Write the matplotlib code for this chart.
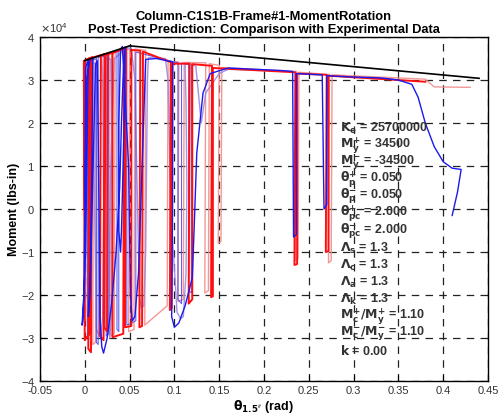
import numpy as np
import matplotlib.pyplot as plt
from matplotlib.ticker import ScalarFormatter

plt.rcParams['font.family'] = ['Liberation Sans', 'DejaVu Sans']
plt.rcParams['mathtext.fontset'] = 'dejavusans'

# Backbone curve (black).
bb_theta = [0.000, 0.050, 0.440]
bb_moment = [34500, 37950, 30400]

# Analysis, red (theta rad, moment lbs-in).
red_theta = [0.000, 0.000, 0.006, 0.005, 0.000, -0.001, 0.008, 0.007, 0.004, 0.005,
             0.022, 0.021, 0.017, 0.018, 0.026, 0.025, 0.022, 0.023, 0.044, 0.043,
             0.031, 0.031, 0.046, 0.045, 0.052, 0.052, 0.062, 0.061, 0.064, 0.065,
             0.098, 0.097, 0.095, 0.096, 0.117, 0.116, 0.120, 0.120, 0.142, 0.141,
             0.143, 0.143, 0.235, 0.234, 0.237, 0.237, 0.270, 0.269, 0.272, 0.272,
             0.380]
red_moment = [0, 34500, 35100, -29000, -30500, 34400, 35300, -33300, -32500, 35000,
              36000, -30500, -29500, 35700, 36200, -28500, -27500, 35800, 37300, -29000,
              -29800, 36300, 37500, -27500, -27200, 37000, 36800, -27500, -27200, 36600,
              34000, -23000, -23500, 33800, 33800, -22000, -21000, 33700, 33300, -20500,
              -20300, 32800, 31800, -13000, -12800, 31500, 31200, -10000, -9800, 31000,
              29600]

# Analysis, light red.
pink_theta = [0.001, 0.002, 0.010, 0.009, 0.012, 0.013, 0.030, 0.029, 0.033, 0.034,
              0.050, 0.049, 0.055, 0.056, 0.068, 0.067, 0.092, 0.093, 0.105, 0.104,
              0.110, 0.111, 0.135, 0.134, 0.138, 0.139, 0.150, 0.149, 0.152, 0.153,
              0.236, 0.235, 0.238, 0.239, 0.273, 0.272, 0.275, 0.276, 0.380, 0.390,
              0.430]
pink_moment = [-26000, 34800, 35400, -31500, -31000, 35500, 36600, -29500, -29000, 36800,
               37200, -28500, -28000, 37200, 36900, -27000, -22500, 34300, 34200, -21500,
               -21000, 34100, 34000, -19500, -19000, 33800, 33400, -8000, -7500, 32900,
               32000, -12000, -11500, 31800, 31300, -12500, -12000, 31200, 30200, 28400,
               28300]

# Experiment, blue.
blue_theta = [0.000, 0.001, 0.004, 0.003, 0.001, -0.002, -0.003, -0.001, 0.002, 0.006,
              0.009, 0.008, 0.006, 0.004, 0.006, 0.012, 0.014, 0.016, 0.017, 0.019,
              0.021, 0.025, 0.030, 0.035, 0.039, 0.041, 0.043, 0.045, 0.044, 0.041,
              0.040, 0.038, 0.038, 0.040, 0.042, 0.049, 0.051, 0.053, 0.056, 0.060,
              0.064, 0.068, 0.080, 0.098, 0.098, 0.097, 0.100, 0.105, 0.112, 0.120,
              0.122, 0.125, 0.132, 0.140, 0.160, 0.220, 0.232, 0.233, 0.236, 0.236,
              0.265, 0.267, 0.270, 0.270, 0.300, 0.330, 0.350, 0.365, 0.372, 0.380,
              0.390, 0.400, 0.410, 0.420, 0.416, 0.410]
blue_moment = [0, 33000, 34500, 20000, -10000, -26000, -27000, -20000, 30000, 34800,
               35200, 10000, -15000, -25000, -20000, 33500, 34500, 0, -25000, -32000,
               -33500, -30000, -22000, -10000, 5000, 20000, 32000, 37700, 20000, -5000,
               -10000, -5000, 20000, 37200, 37800, 10000, -20000, -26000, -25000, -15000,
               10000, 34800, 35000, 34200, 0, -25000, -27500, -26500, -22500, -16000,
               -5000, 13000, 27000, 31500, 32800, 32200, 32000, -6500, -6000, 31500,
               31200, 0, 1000, 31000, 30700, 30500, 30000, 29000, 26000, 20000,
               14500, 11000, 9500, 9200, 4000, -1500]

# Experiment, light blue / violet.
lav_theta = [0.000, 0.002, 0.008, 0.010, 0.012, 0.011, 0.013, 0.018, 0.020, 0.021,
             0.020, 0.019, 0.020, 0.026, 0.029, 0.031, 0.030, 0.028, 0.027, 0.029,
             0.033, 0.036, 0.047, 0.052, 0.056, 0.058, 0.060, 0.061, 0.063, 0.066,
             0.068, 0.069, 0.070, 0.071, 0.090, 0.093, 0.096, 0.103, 0.107, 0.110,
             0.113, 0.114, 0.113, 0.112, 0.118, 0.124, 0.130, 0.135, 0.150, 0.160,
             0.200]
lav_moment = [-25000, 34300, 34700, 33800, 34000, 0, -28000, -30000, -25000, 0,
              30000, 35800, 35600, 34800, 34900, 0, -22000, -30000, -26000, 10000,
              35000, 35500, 37500, 37400, 30000, 10000, -10000, -20000, -23000, -22500,
              -10000, 10000, 30000, 35200, 35000, 30000, 0, -24000, -25500, -25000,
              -15000, 5000, 25000, 33600, 33800, 33200, 20000, 27000, 31500, 32500,
              32300]

# Experiment, extra small cycles (blue, thin).
blue2_theta = [0.003, 0.003, 0.005, 0.005, 0.013, 0.013, 0.015, 0.015, 0.024, 0.024,
               0.027, 0.027, 0.036, 0.036, 0.038, 0.038, 0.047, 0.047, 0.057, 0.057,
               0.104, 0.104, 0.108, 0.108, 0.116, 0.116, 0.119, 0.119]
blue2_moment = [34000, -29000, -29500, 34200, 35000, -31000, -31500, 35200, 35800, -29500,
                -29000, 36000, 36800, -28000, -28500, 37000, 37400, -27000, -26000, 36500,
                34000, -21000, -22000, 34000, 33600, -19000, -19500, 33500]

fig = plt.figure(figsize=(4.99, 4.16), dpi=100)
ax = fig.add_axes([0.080, 0.084, 0.898, 0.827])

ax.plot(pink_theta, pink_moment, color='#f28c8c', lw=1.0, alpha=0.9)
ax.plot(lav_theta, lav_moment, color='#9a88e0', lw=1.0, alpha=0.9)
ax.plot(blue2_theta, blue2_moment, color='#5050f0', lw=0.8, alpha=0.9)
ax.plot(red_theta, red_moment, color='#ff1010', lw=1.4)
ax.plot(blue_theta, blue_moment, color='#1a1aee', lw=1.0)
ax.plot(bb_theta, bb_moment, color='black', lw=1.2)

ax.set_xlim(-0.05, 0.45)
ax.set_ylim(-40000, 40000)
ax.set_xticks(np.arange(-0.05, 0.451, 0.05))
ax.set_xticklabels(['-0.05', '0', '0.05', '0.1', '0.15', '0.2', '0.25', '0.3', '0.35', '0.4', '0.45'])
ax.set_yticks(np.arange(-40000, 40001, 10000))
fmt = ScalarFormatter(useMathText=True)
fmt.set_powerlimits((0, 0))
ax.yaxis.set_major_formatter(fmt)
ax.yaxis.get_offset_text().set_fontsize(8)
ax.yaxis.get_offset_text().set_color('#333333')
ax.tick_params(direction='in', labelsize=8, labelcolor='#333333', length=4)
ax.grid(True, color='#222222', linestyle=(0, (6, 5)), lw=0.9)
for sp in ax.spines.values():
    sp.set_linewidth(1.0)

ax.set_xlabel(r"$\mathbf{\theta_{1.5''}}$ (rad)", fontsize=9, fontweight='bold')
ax.xaxis.set_label_coords(0.5, -0.048)
ax.set_ylabel('Moment (lbs-in)', fontsize=9, fontweight='bold')
ax.yaxis.set_label_coords(-0.045, 0.5)
ax.set_title('Column-C1S1B-Frame#1-MomentRotation\nPost-Test Prediction: Comparison with Experimental Data',
             fontsize=9.3, fontweight='bold', linespacing=1.05, pad=3)

labels = [r'$\mathbf{K_e}$ = 25700000',
          r'$\mathbf{M^{+}_{y}}$ = 34500',
          r'$\mathbf{M^{-}_{y}}$ = -34500',
          r'$\mathbf{\theta^{+}_{p}}$ = 0.050',
          r'$\mathbf{\theta^{-}_{p}}$ = 0.050',
          r'$\mathbf{\theta^{+}_{pc}}$ = 2.000',
          r'$\mathbf{\theta^{-}_{pc}}$ = 2.000',
          r'$\mathbf{\Lambda_{s}}$ = 1.3',
          r'$\mathbf{\Lambda_{c}}$ = 1.3',
          r'$\mathbf{\Lambda_{a}}$ = 1.3',
          r'$\mathbf{\Lambda_{k}}$ = 1.3',
          r'$\mathbf{M^{+}_{c}/M^{+}_{y}}$ = 1.10',
          r'$\mathbf{M^{-}_{c}/M^{-}_{y}}$ = 1.10',
          r'$\mathbf{k}$ = 0.00']
for i, s in enumerate(labels):
    ax.text(0.67, 0.735 - i * 0.0498, s, transform=ax.transAxes, fontsize=9,
            fontweight='bold', color='#333333', va='center', ha='left')

fig.savefig('out.png', dpi=100)
